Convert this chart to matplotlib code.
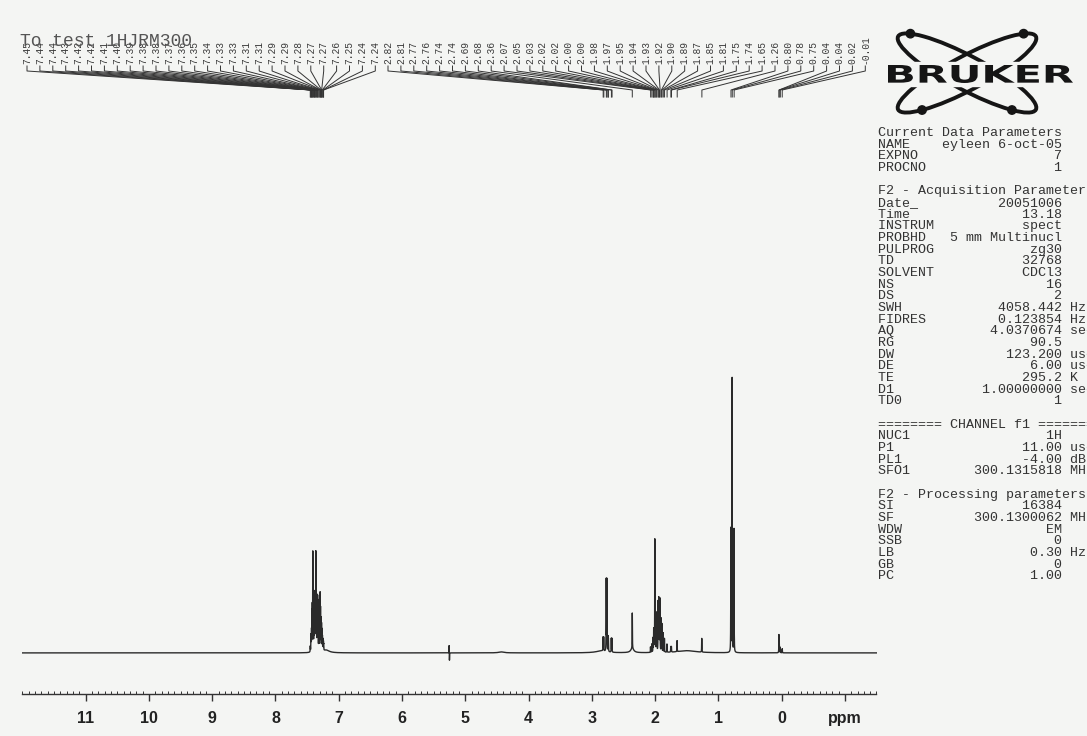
import numpy as np
import matplotlib
matplotlib.use("Agg")
import matplotlib.pyplot as plt
from matplotlib.textpath import TextPath
from matplotlib.font_manager import FontProperties
from matplotlib.patches import PathPatch, Ellipse, Circle, Rectangle
from matplotlib.transforms import Affine2D
from matplotlib.ticker import MultipleLocator, FixedLocator

# ---------------- data ----------------
# sharp lines (ppm, relative intensity)
peak_ppm = [7.450, 7.440, 7.435, 7.430, 7.422, 7.418, 7.410, 7.402, 7.392, 7.383,
            7.378, 7.370, 7.362, 7.352, 7.342, 7.334, 7.328, 7.314, 7.308, 7.294,
            7.288, 7.280, 7.272, 7.266, 7.258, 7.250, 7.242, 7.238,
            5.255, 5.250,
            2.822, 2.812, 2.772, 2.762, 2.742, 2.738, 2.692, 2.682,
            2.360,
            2.072, 2.052, 2.032, 2.022, 2.018, 2.004, 1.998, 1.982, 1.972, 1.952,
            1.942, 1.932, 1.922, 1.902, 1.892, 1.872, 1.852, 1.812, 1.752, 1.742,
            1.652, 1.262,
            0.802, 0.782, 0.752,
            0.042, 0.038, 0.022, -0.010]
peak_height = [2, 4, 5, 7, 12, 14, 35, 14, 16, 19,
               17, 17, 35, 16, 19, 18, 16, 17, 16, 20,
               14, 11, 9, 7, 5, 4, 3, 2,
               3, -3,
               5, 5, 26, 26, 5, 4, 5, 5,
               13,
               2, 3, 5, 7, 7, 40, 14, 12, 14, 18,
               19, 17, 19, 12, 10, 7, 5, 3, 2, 2,
               4, 5,
               45, 100, 45,
               6, 4, 2, 1.5]
peak_width = 0.0018
# broad humps (ppm, intensity, half width)
hump_ppm = [7.20, 4.43, 1.50, 2.85, 2.36]
hump_height = [1.0, 0.35, 0.8, 0.7, 1.5]
hump_width = [0.06, 0.05, 0.18, 0.10, 0.03]

labels_group1 = [7.45, 7.44, 7.44, 7.43, 7.42, 7.42, 7.41, 7.40, 7.39, 7.38,
                 7.38, 7.37, 7.36, 7.35, 7.34, 7.33, 7.33, 7.31, 7.31, 7.29,
                 7.29, 7.28, 7.27, 7.27, 7.26, 7.25, 7.24, 7.24]
labels_group2 = [2.82, 2.81, 2.77, 2.76, 2.74, 2.74, 2.69, 2.68, 2.36, 2.07,
                 2.05, 2.03, 2.02, 2.02, 2.00, 2.00, 1.98, 1.97, 1.95, 1.94,
                 1.93, 1.92, 1.90, 1.89, 1.87, 1.85, 1.81, 1.75, 1.74, 1.65,
                 1.26, 0.80, 0.78, 0.75, 0.04, 0.04, 0.02, -0.01]

tick_values = [11, 10, 9, 8, 7, 6, 5, 4, 3, 2, 1, 0, -1]
tick_labels = ["11", "10", "9", "8", "7", "6", "5", "4", "3", "2", "1", "0", "ppm"]

title_text = "To test 1HJRM300"

param_lines = [
    ("Current Data Parameters",),
    ("NAME", "eyleen 6-oct-05"),
    ("EXPNO", "7"),
    ("PROCNO", "1"),
    ("",),
    ("F2 - Acquisition Parameters",),
    ("Date_", "20051006"),
    ("Time", "13.18"),
    ("INSTRUM", "spect"),
    ("PROBHD", "5 mm Multinucl"),
    ("PULPROG", "zg30"),
    ("TD", "32768"),
    ("SOLVENT", "CDCl3"),
    ("NS", "16"),
    ("DS", "2"),
    ("SWH", "4058.442", "Hz"),
    ("FIDRES", "0.123854", "Hz"),
    ("AQ", "4.0370674", "sec"),
    ("RG", "90.5"),
    ("DW", "123.200", "usec"),
    ("DE", "6.00", "usec"),
    ("TE", "295.2", "K"),
    ("D1", "1.00000000", "sec"),
    ("TD0", "1"),
    ("",),
    ("======== CHANNEL f1 ========",),
    ("NUC1", "1H"),
    ("P1", "11.00", "usec"),
    ("PL1", "-4.00", "dB"),
    ("SFO1", "300.1315818", "MHz"),
    ("",),
    ("F2 - Processing parameters",),
    ("SI", "16384"),
    ("SF", "300.1300062", "MHz"),
    ("WDW", "EM"),
    ("SSB", "0"),
    ("LB", "0.30", "Hz"),
    ("GB", "0"),
    ("PC", "1.00"),
]

# ---------------- figure ----------------
W, H = 1087, 736
bg = "#f4f5f3"
ink = "#2a2a2a"
fig = plt.figure(figsize=(W / 100, H / 100), dpi=100)
fig.patch.set_facecolor(bg)

ax_left, ax_right, ax_top, ax_bottom = 22.4, 876.5, 120, 694
ax = fig.add_axes([ax_left / W, 1 - ax_bottom / H,
                   (ax_right - ax_left) / W, (ax_bottom - ax_top) / H])
ax.set_facecolor("none")

x = np.linspace(12.0, -1.5, 40501)
y = np.zeros_like(x)
for p, h in zip(peak_ppm, peak_height):
    y += h * peak_width ** 2 / ((x - p) ** 2 + peak_width ** 2)
for p, h, w in zip(hump_ppm, hump_height, hump_width):
    y += h * w ** 2 / ((x - p) ** 2 + w ** 2)
ax.plot(x, y, color=ink, lw=1.0)
ax.set_xlim(12.0, -1.5)
ax.set_ylim(-15, 194.5)
for s in ["top", "left", "right"]:
    ax.spines[s].set_visible(False)
ax.spines["bottom"].set_color("#333333")
ax.spines["bottom"].set_linewidth(1.0)
ax.set_yticks([])
ax.xaxis.set_major_locator(FixedLocator(tick_values))
ax.set_xticklabels(tick_labels, fontfamily="Liberation Sans", fontweight="bold",
                   fontsize=11.5, color="#222222")
ax.xaxis.set_minor_locator(MultipleLocator(0.1))
ax.tick_params(axis="x", which="major", direction="out", length=5, width=1,
               pad=7, color="#333333")
ax.tick_params(axis="x", which="minor", direction="in", length=2.4, width=0.7,
               color="#333333")

# overlay in pixel coordinates
ov = fig.add_axes([0, 0, 1, 1], zorder=5)
ov.set_xlim(0, W)
ov.set_ylim(H, 0)
ov.axis("off")
ov.patch.set_alpha(0)


def ppm_to_px(p):
    d = ax.transData.transform((p, 0))
    return ov.transData.inverted().transform(d)[0]


lab_font = FontProperties(family="Liberation Mono", size=6.9)
step = 12.9
for start, group in ((27.0, labels_group1), (388.0, labels_group2)):
    for i, v in enumerate(group):
        xl = start + i * step
        xp = ppm_to_px(v)
        ov.text(xl, 63.5, f"{v:.2f}", rotation=90, ha="center", va="bottom",
                fontproperties=lab_font, color="#3a3a3a")
        ov.plot([xl, xl, xp, xp], [66, 71, 90, 97], color="#333333", lw=0.7)

ov.text(20, 41, title_text, family="Liberation Mono", fontsize=13,
        va="center", ha="left", color="#555555", zorder=6)

# Bruker logo
cx, cy, a, b = 967, 73, 78, 17
for ang, ts in ((28, (np.pi + 0.5, 0.75)), (-28, (np.pi - 0.75, -0.5))):
    ov.add_patch(Ellipse((cx, cy), 2 * a, 2 * b, angle=ang, fill=False,
                         lw=2.8, ec="#151515", zorder=2))
    th = np.deg2rad(ang)
    for t in ts:
        px = cx + a * np.cos(t) * np.cos(th) - b * np.sin(t) * np.sin(th)
        py = cy + a * np.cos(t) * np.sin(th) + b * np.sin(t) * np.cos(th)
        ov.add_patch(Circle((px, py), 4.2, color="#151515", zorder=2))
ov.add_patch(Rectangle((883, 62), 196, 24, color=bg, zorder=3))
fp = FontProperties(family="DejaVu Sans", weight="bold")
tp = TextPath((0, 0), "BRUKER", size=10, prop=fp)
ext = tp.get_extents()
tr = (Affine2D().translate(-ext.x0, -ext.y0)
      .scale(185 / ext.width, -18 / ext.height).translate(888, 83))
ov.add_patch(PathPatch(tr.transform_path(tp), fc="#151515", ec="none", zorder=4))

# parameter block
for i, row in enumerate(param_lines):
    if len(row) == 1:
        s = row[0]
    else:
        s = row[0] + row[1].rjust(23 - len(row[0]))
        if len(row) == 3:
            s += " " + row[2]
    if s:
        ov.text(878, 133 + i * 11.67, s, family="Liberation Mono", fontsize=9.65,
                va="center", ha="left", color="#333333")

fig.savefig("out.png", dpi=100, facecolor=bg)
